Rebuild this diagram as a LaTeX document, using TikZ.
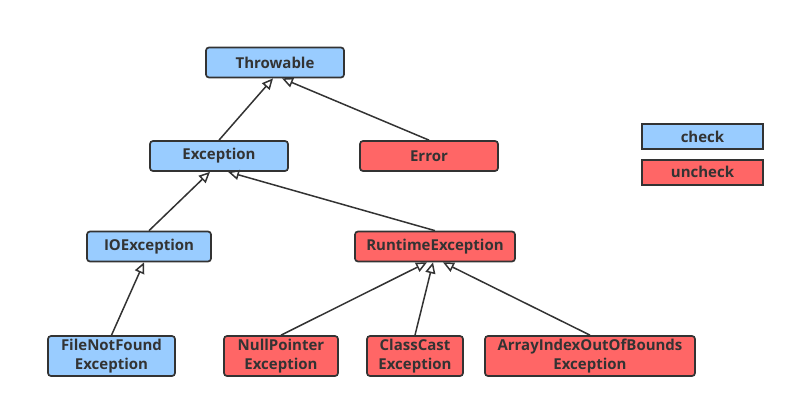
\documentclass[tikz,border=0pt]{standalone}
\usepackage{fontspec}
\setmainfont{Open Sans}
\usetikzlibrary{arrows.meta, positioning}
\definecolor{checkblue}{HTML}{99CCFF}
\definecolor{uncheckred}{HTML}{FF6666}
\definecolor{edgegray}{HTML}{333333}

\begin{document}
\begin{tikzpicture}[
x=1pt, y=-1pt,
box/.style={draw=edgegray, line width=1.7pt, rounded corners=3pt, align=center, minimum height=30pt, inner sep=0pt, text=edgegray, font=\fontsize{15}{19}\selectfont\bfseries},
checked/.style={box, fill=checkblue},
unchecked/.style={box, fill=uncheckred},
legend/.style={sharp corners, minimum height=25pt, minimum width=121pt},
arrow/.style={-{Triangle[open, length=11pt, width=10pt]}, line width=1.5pt, draw=edgegray}
]
\useasboundingbox (0,0) rectangle (795,408);

\node[checked, minimum width=138pt] (throwable) at (275,62.5) {Throwable};
\node[checked, minimum width=138pt] (exception) at (219,156) {Exception};
\node[unchecked, minimum width=138pt] (error) at (429,156) {Error};
\node[checked, minimum width=124pt] (ioexc) at (149,246.5) {IOException};
\node[unchecked, minimum width=160pt] (runtime) at (435,246.5) {RuntimeException};

\node[checked, minimum width=127pt, minimum height=40pt] (filenotfound) at (111.5,356) {FileNotFound\\Exception};
\node[unchecked, minimum width=114pt, minimum height=40pt] (nullpointer) at (281,356) {NullPointer\\Exception};
\node[unchecked, minimum width=96pt, minimum height=40pt] (classcast) at (415,356) {ClassCast\\Exception};
\node[unchecked, minimum width=210pt, minimum height=40pt] (arrayindex) at (590,356) {ArrayIndexOutOfBounds\\Exception};

% legend
\node[checked, legend] (legcheck) at (702.5,136.5) {check};
\node[unchecked, legend, below=9pt of legcheck] (leguncheck) {uncheck};

\draw[arrow] (exception.north) -- ([xshift=-2pt]throwable.south);
\draw[arrow] (error.north) -- ([xshift=7pt]throwable.south);

\draw[arrow] (ioexc.north) -- ([xshift=-9pt]exception.south);
\draw[arrow] (runtime.north) -- ([xshift=9pt]exception.south);

\draw[arrow] (filenotfound.north) -- ([xshift=-5pt]ioexc.south);

\draw[arrow] (nullpointer.north) -- ([xshift=-8pt]runtime.south);
\draw[arrow] (classcast.north) -- ([xshift=-2pt]runtime.south);
\draw[arrow] (arrayindex.north) -- ([xshift=8pt]runtime.south);

\end{tikzpicture}
\end{document}
